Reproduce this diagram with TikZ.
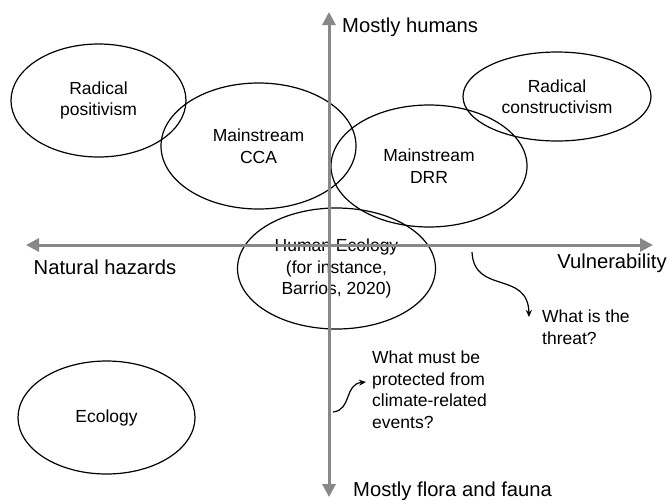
\documentclass[tikz,border=0pt]{standalone}
\usepackage{fontspec}
\setmainfont{Liberation Sans}
\usetikzlibrary{shapes.geometric,arrows.meta}
\definecolor{axisgray}{HTML}{888888}
\begin{document}
\begin{tikzpicture}[x=1pt,y=-1pt,
  zone/.style={draw=black,line width=1.2pt,ellipse,inner sep=0pt,align=center,
    font=\fontsize{17.5}{21.5}\selectfont},
  axis/.style={draw=axisgray,line width=3pt,-{Triangle[length=13pt,width=13pt]}},
  axislabel/.style={inner sep=0pt,font=\fontsize{20.2}{24}\selectfont},
  question/.style={inner sep=0pt,align=left,font=\fontsize{17.5}{21.5}\selectfont},
  pointer/.style={draw=black,line width=1.2pt,-{Stealth[length=7pt,width=6pt]}}]
\useasboundingbox (0,0) rectangle (669,499);

% perspectives
\node[zone,minimum width=175pt,minimum height=113pt] (rp) at (98.5,100.5) {Radical\\positivism};
\node[zone,minimum width=195pt,minimum height=126pt] (cca) at (258.5,146) {Mainstream\\CCA};
\node[zone,minimum width=196pt,minimum height=122pt] (drr) at (429,166) {Mainstream\\DRR};
\node[zone,minimum width=188pt,minimum height=89pt] (rc) at (557,96.5) {Radical\\constructivism};
\node[zone,minimum width=198pt,minimum height=121pt] (he) at (336.5,268.5) {Human Ecology\\(for instance,\\Barrios, 2020)};
\node[zone,minimum width=177pt,minimum height=113pt] (eco) at (106.5,417.5) {Ecology};

% axes
\coordinate (vbot) at (329,497);
\coordinate (vtop) at (329,12);
\coordinate (hleft) at (26,245);
\coordinate (hright) at (653,245);
\coordinate (ctr) at (329,245);
\draw[axis] (ctr) -- (vtop);
\draw[axis] (ctr) -- (vbot);
\draw[axis] (ctr) -- (hleft);
\draw[axis] (ctr) -- (hright);

\node[axislabel,anchor=west] (up) at (342,27) {Mostly humans};
\node[axislabel,anchor=west] (down) at (353,491) {Mostly flora and fauna};
\node[axislabel] (left) at (105,267) {Natural hazards};
\node[axislabel] (right) at (612,263) {Vulnerability};

% guiding questions
\node[question,anchor=north west] (q1) at (542,310) {What is the\\threat?};
\node[question,anchor=north west] (q2) at (372,351) {What must be\\protected from\\climate-related\\events?};

\coordinate (a1s) at (472,252);
\coordinate (a1e) at (529,317);
\draw[pointer] (a1s) .. controls (474,295) and (528,270) .. (a1e);
\coordinate (a2s) at (333,412);
\coordinate (a2e) at (366,382);
\draw[pointer] (a2s) .. controls (352,410) and (344,384) .. (a2e);
\end{tikzpicture}
\end{document}
